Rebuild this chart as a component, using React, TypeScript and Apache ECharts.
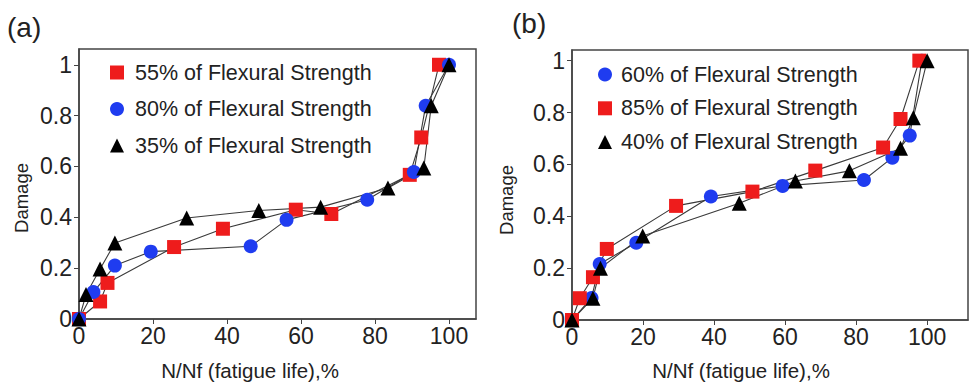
import React, { useEffect, useRef } from 'react';
import * as echarts from 'echarts';

const xTicks = [0, 20, 40, 60, 80, 100];
const yTicks = [0, 0.2, 0.4, 0.6, 0.8, 1];

// panel (a)
const a55Name = '55% of Flexural Strength';
const a55X = [0, 5.7, 7.7, 25.7, 38.9, 58.6, 68.2, 89.4, 92.5, 97.3];
const a55Y = [0, 0.069, 0.142, 0.283, 0.355, 0.43, 0.413, 0.567, 0.714, 1.0];
const a80Name = '80% of Flexural Strength';
const a80X = [0, 3.9, 9.7, 19.4, 46.4, 56.1, 77.9, 90.5, 93.7, 100];
const a80Y = [0, 0.106, 0.21, 0.265, 0.286, 0.39, 0.469, 0.578, 0.839, 1.0];
const a35Name = '35% of Flexural Strength';
const a35X = [0, 1.9, 5.7, 9.7, 29.1, 48.6, 65.3, 83.5, 93.2, 95.2, 100];
const a35Y = [0, 0.096, 0.197, 0.299, 0.397, 0.427, 0.44, 0.515, 0.594, 0.839, 1.0];

// panel (b)
const b60Name = '60% of Flexural Strength';
const b60X = [0, 5.5, 7.8, 18.1, 39.1, 59.3, 82.2, 90.2, 95.1, 98.5];
const b60Y = [0, 0.085, 0.216, 0.298, 0.476, 0.517, 0.54, 0.626, 0.711, 1.0];
const b85Name = '85% of Flexural Strength';
const b85X = [0, 2.2, 5.9, 9.8, 29.3, 50.8, 68.5, 87.6, 92.5, 97.8];
const b85Y = [0, 0.084, 0.165, 0.274, 0.44, 0.495, 0.576, 0.665, 0.775, 1.0];
const b40Name = '40% of Flexural Strength';
const b40X = [0, 5.9, 8.0, 19.9, 47.1, 62.9, 78.1, 92.5, 96.1, 100];
const b40Y = [0, 0.084, 0.2, 0.324, 0.45, 0.536, 0.575, 0.662, 0.78, 1.0];

const RED = '#ee1c1c';
const BLUE = '#1f3cf0';
const BLACK = '#000000';
const FONT = '"Liberation Sans", Arial, sans-serif';
const AXIS = '#444';
const TEXT = '#222';

const zip = (xs: number[], ys: number[]) => xs.map((x, i) => [x, ys[i]]);

function mkSeries(name: string, xs: number[], ys: number[], idx: number, symbol: string, color: string, size: number) {
  return {
    name,
    type: 'line',
    xAxisIndex: idx,
    yAxisIndex: idx,
    data: zip(xs, ys),
    symbol,
    symbolSize: size,
    itemStyle: { color },
    lineStyle: { color: '#3a3a3a', width: 1.1 },
    emphasis: { disabled: true },
    silent: true,
  };
}

function mkX(idx: number, max: number) {
  return {
    type: 'value',
    gridIndex: idx,
    min: 0,
    max,
    axisLine: { show: true, lineStyle: { color: AXIS, width: 1.5 } },
    axisTick: { show: true, length: 5, customValues: xTicks, lineStyle: { color: AXIS } },
    axisLabel: { customValues: xTicks, fontSize: 23, color: TEXT, fontFamily: FONT, margin: 5 },
    splitLine: { show: false },
  };
}

function mkY(idx: number, max: number) {
  return {
    type: 'value',
    gridIndex: idx,
    min: 0,
    max,
    axisLine: { show: true, lineStyle: { color: AXIS, width: 1.5 } },
    axisTick: { show: true, length: 5, customValues: yTicks, lineStyle: { color: AXIS } },
    axisLabel: { customValues: yTicks, fontSize: 23, color: TEXT, fontFamily: FONT, margin: 7 },
    splitLine: { show: false },
  };
}

export default function App() {
  const ref = useRef<HTMLDivElement>(null);
  useEffect(() => {
    if (!ref.current) return;
    const chart = echarts.init(ref.current, undefined, { renderer: 'svg' });
    const legendBase = {
      orient: 'vertical',
      itemWidth: 14,
      itemHeight: 14,
      selectedMode: false,
      textStyle: { fontSize: 21.5, color: TEXT, fontFamily: FONT },
    };
    chart.setOption({
      animation: false,
      backgroundColor: '#fff',
      grid: [
        { left: 79, top: 49, width: 397, height: 270, show: true, borderColor: AXIS, borderWidth: 1.5 },
        { left: 572, top: 50, width: 396, height: 270, show: true, borderColor: AXIS, borderWidth: 1.5 },
      ],
      xAxis: [mkX(0, 107.3), mkX(1, 111.5)],
      yAxis: [mkY(0, 1.062), mkY(1, 1.041)],
      legend: [
        {
          ...legendBase,
          left: 105,
          top: 56.5,
          itemGap: 14.5,
          textStyle: { ...legendBase.textStyle, padding: [0, 0, 0, 6] },
          data: [
            { name: a55Name, icon: 'rect' },
            { name: a80Name, icon: 'circle' },
            { name: a35Name, icon: 'triangle' },
          ],
        },
        {
          ...legendBase,
          left: 593,
          top: 58.5,
          itemGap: 11.8,
          textStyle: { ...legendBase.textStyle, padding: [0, 0, 0, 4] },
          data: [
            { name: b60Name, icon: 'circle' },
            { name: b85Name, icon: 'rect' },
            { name: b40Name, icon: 'triangle' },
          ],
        },
      ],
      graphic: [
        { type: 'text', left: 7, top: 13, style: { text: '(a)', fontSize: 28, fill: TEXT, fontFamily: FONT } },
        { type: 'text', left: 512, top: 9, style: { text: '(b)', fontSize: 28, fill: TEXT, fontFamily: FONT } },
        { type: 'text', x: 21, y: 198, rotation: Math.PI / 2, style: { text: 'Damage', fontSize: 18.5, fill: TEXT, fontFamily: FONT, align: 'center', verticalAlign: 'middle' } },
        { type: 'text', x: 506.5, y: 200, rotation: Math.PI / 2, style: { text: 'Damage', fontSize: 18.5, fill: TEXT, fontFamily: FONT, align: 'center', verticalAlign: 'middle' } },
        { type: 'text', x: 250, y: 370, style: { text: 'N/Nf (fatigue life),%', fontSize: 20.5, fill: TEXT, fontFamily: FONT, align: 'center', verticalAlign: 'middle' } },
        { type: 'text', x: 741, y: 370, style: { text: 'N/Nf (fatigue life),%', fontSize: 20.5, fill: TEXT, fontFamily: FONT, align: 'center', verticalAlign: 'middle' } },
      ],
      series: [
        mkSeries(a55Name, a55X, a55Y, 0, 'rect', RED, 14),
        mkSeries(a80Name, a80X, a80Y, 0, 'circle', BLUE, 14),
        mkSeries(a35Name, a35X, a35Y, 0, 'triangle', BLACK, 15),
        mkSeries(b60Name, b60X, b60Y, 1, 'circle', BLUE, 14),
        mkSeries(b85Name, b85X, b85Y, 1, 'rect', RED, 14),
        mkSeries(b40Name, b40X, b40Y, 1, 'triangle', BLACK, 15),
      ],
    });
    return () => chart.dispose();
  }, []);
  return <div ref={ref} style={{ position: 'fixed', left: 0, top: 0, width: 971, height: 383 }} />;
}
